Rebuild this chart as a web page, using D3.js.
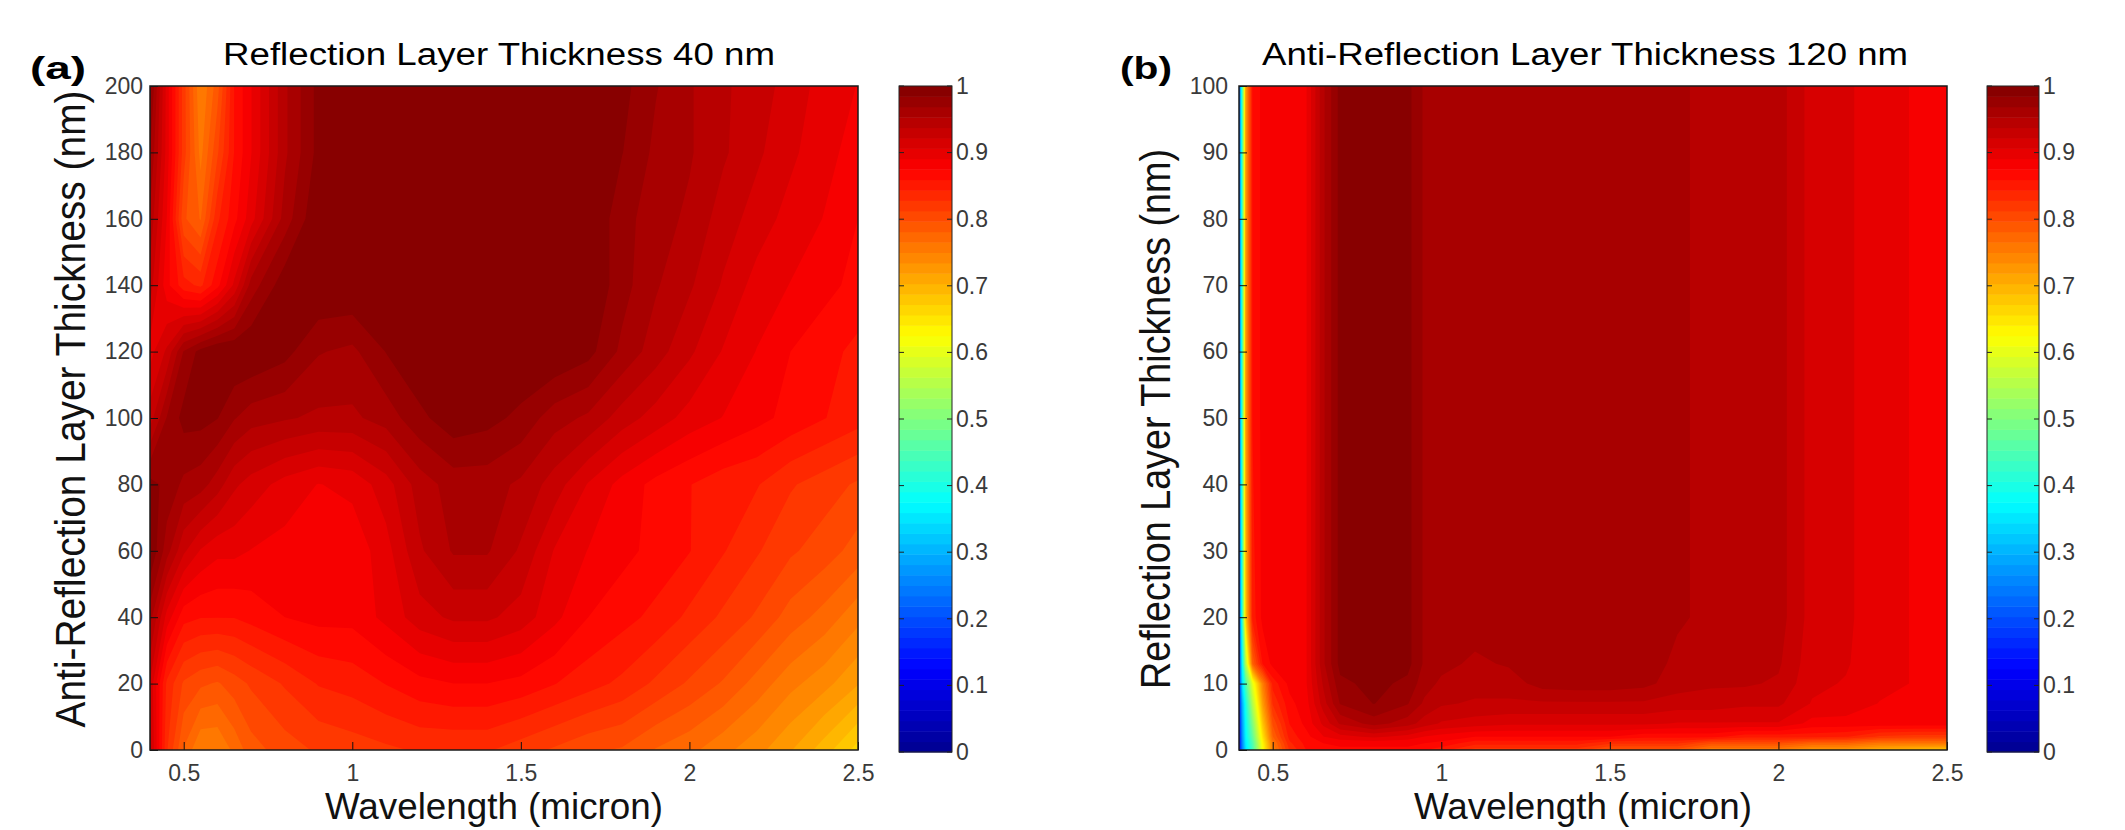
<!DOCTYPE html>
<html>
<head>
<meta charset="utf-8">
<script src="https://cdn.jsdelivr.net/npm/d3@7"></script>
<style>
  body { margin: 0; background: #fff; }
  text { font-family: "Liberation Sans", Arial, sans-serif; }
</style>
</head>
<body>
<div id="chart"></div>
<script>
// ---- data ----
var xTicks = [0.5, 1, 1.5, 2, 2.5];
var yTicksA = [0, 20, 40, 60, 80, 100, 120, 140, 160, 180, 200];
var yTicksB = [0, 10, 20, 30, 40, 50, 60, 70, 80, 90, 100];
var cbTicks = [0, 0.1, 0.2, 0.3, 0.4, 0.5, 0.6, 0.7, 0.8, 0.9, 1];

// panel (a): wavelength (micron) x anti-reflection thickness (nm)
var wavelengthA = [0.4, 0.45, 0.5, 0.55, 0.6, 0.65, 0.7, 0.8, 0.9, 1.0, 1.1, 1.2, 1.3, 1.4, 1.5, 1.6, 1.7, 1.8, 1.9, 2.0, 2.1, 2.2, 2.3, 2.4, 2.5];
var thicknessA = [0, 20, 40, 60, 80, 100, 120, 140, 160, 180, 200];
var reflectA = [
  [0.93,0.83,0.78,0.75,0.75,0.77,0.79,0.805,0.815,0.82, 0.825,0.83,0.83,0.83,0.82,0.81,0.80,0.795,0.78,0.77, 0.755,0.74,0.72,0.695,0.665],
  [0.92,0.84,0.81,0.80,0.795,0.805,0.815,0.83,0.845,0.85, 0.86,0.87,0.875,0.875,0.87,0.86,0.85,0.84,0.825,0.81, 0.795,0.775,0.755,0.74,0.72],
  [0.96,0.90,0.865,0.86,0.86,0.86,0.865,0.875,0.88,0.88, 0.895,0.915,0.925,0.925,0.915,0.895,0.875,0.865,0.855,0.84, 0.825,0.81,0.79,0.775,0.755],
  [1.00,0.96,0.925,0.905,0.895,0.895,0.89,0.885,0.88,0.88, 0.90,0.935,0.955,0.955,0.935,0.905,0.89,0.88,0.87,0.86, 0.845,0.83,0.815,0.805,0.79],
  [0.99,0.98,0.965,0.96,0.945,0.925,0.915,0.90,0.89,0.895, 0.915,0.945,0.96,0.96,0.95,0.93,0.905,0.885,0.87,0.86, 0.85,0.845,0.83,0.82,0.81],
  [0.93,0.97,0.99,0.99,0.985,0.97,0.96,0.955,0.95,0.95, 0.96,0.98,0.995,0.99,0.98,0.96,0.95,0.93,0.915,0.90, 0.89,0.88,0.87,0.86,0.85],
  [0.90,0.925,0.97,0.99,1.0,1.0,1.0,0.99,0.97,0.965, 0.985,1.0,1.0,1.0,1.0,1.0,0.99,0.965,0.945,0.925, 0.905,0.89,0.875,0.865,0.855],
  [0.93,0.88,0.85,0.84,0.87,0.91,0.96,0.995,1.0,1.0, 1.0,1.0,1.0,1.0,1.0,1.0,1.0,0.975,0.955,0.94, 0.92,0.90,0.89,0.88,0.87],
  [0.95,0.89,0.80,0.78,0.84,0.87,0.90,0.96,1.0,1.0, 1.0,1.0,1.0,1.0,1.0,1.0,1.0,0.975,0.96,0.95, 0.93,0.915,0.90,0.89,0.875],
  [0.97,0.90,0.82,0.76,0.81,0.86,0.89,0.95,0.99,1.0, 1.0,1.0,1.0,1.0,1.0,1.0,1.0,0.985,0.965,0.955, 0.94,0.925,0.91,0.895,0.885],
  [0.99,0.90,0.82,0.75,0.79,0.86,0.89,0.95,0.99,1.0, 1.0,1.0,1.0,1.0,1.0,1.0,1.0,0.99,0.97,0.955, 0.94,0.93,0.915,0.90,0.89]
];

// panel (b): wavelength (micron) x reflection thickness (nm)
var wavelengthB = [0.4, 0.41, 0.42, 0.44, 0.47, 0.5, 0.55, 0.6, 0.65, 0.7, 0.8, 0.9, 0.95, 1.0, 1.1, 1.2, 1.3, 1.4, 1.5, 1.6, 1.7, 1.8, 1.9, 2.0, 2.1, 2.2, 2.3, 2.4, 2.5];
var thicknessB = [0, 1, 2, 4, 7, 10, 13, 20, 50, 100];
var reflectB = [
  [0.12,0.25,0.35,0.44,0.62,0.75,0.83,0.86,0.865,0.87, 0.87,0.87,0.86,0.85,0.82,0.82,0.82,0.82,0.79,0.79, 0.79,0.75,0.75,0.75,0.72,0.72,0.70,0.69,0.68],
  [0.12,0.26,0.36,0.45,0.63,0.76,0.84,0.865,0.875,0.88, 0.88,0.88,0.875,0.87,0.85,0.85,0.85,0.85,0.83,0.83, 0.83,0.80,0.80,0.80,0.78,0.78,0.76,0.76,0.76],
  [0.12,0.27,0.37,0.47,0.65,0.78,0.85,0.87,0.89,0.90, 0.91,0.90,0.89,0.885,0.875,0.875,0.875,0.875,0.875,0.865, 0.865,0.865,0.85,0.85,0.85,0.845,0.825,0.82,0.82],
  [0.13,0.28,0.38,0.50,0.68,0.80,0.86,0.88,0.91,0.94, 0.96,0.945,0.93,0.92,0.915,0.91,0.91,0.91,0.91,0.91, 0.905,0.905,0.905,0.905,0.885,0.885,0.885,0.885,0.885],
  [0.14,0.30,0.40,0.55,0.72,0.83,0.87,0.885,0.93,0.97, 0.985,0.97,0.95,0.94,0.935,0.935,0.935,0.935,0.935,0.935, 0.93,0.93,0.925,0.925,0.905,0.90,0.89,0.89,0.89],
  [0.15,0.35,0.45,0.60,0.75,0.85,0.88,0.89,0.94,0.98, 0.99,0.98,0.96,0.95,0.945,0.945,0.96,0.962,0.962,0.958, 0.945,0.94,0.94,0.935,0.91,0.905,0.895,0.89,0.89],
  [0.16,0.38,0.55,0.78,0.86,0.88,0.885,0.89,0.95,0.99, 1.0,0.99,0.966,0.958,0.95,0.955,0.963,0.965,0.965,0.96, 0.95,0.945,0.945,0.94,0.912,0.908,0.895,0.89,0.89],
  [0.17,0.43,0.68,0.85,0.88,0.885,0.885,0.89,0.95,0.99, 1.0,0.99,0.966,0.963,0.962,0.963,0.965,0.965,0.965,0.962, 0.955,0.95,0.95,0.945,0.915,0.91,0.895,0.89,0.89],
  [0.18,0.45,0.72,0.86,0.88,0.885,0.885,0.89,0.95,0.99, 1.0,0.99,0.966,0.965,0.965,0.965,0.965,0.965,0.965,0.962, 0.955,0.95,0.95,0.945,0.915,0.91,0.895,0.89,0.89],
  [0.18,0.45,0.72,0.86,0.88,0.885,0.885,0.89,0.95,0.99, 1.0,0.99,0.966,0.965,0.965,0.965,0.965,0.965,0.965,0.962, 0.955,0.95,0.95,0.945,0.915,0.91,0.895,0.89,0.89]
];

// ---- drawing ----
var svg = d3.select('#chart').append('svg')
    .attr('width', 2125)
    .attr('height', 830);

// matlab "jet" colour map
var jet = d3.scaleLinear()
    .domain([0, 0.125, 0.375, 0.625, 0.875, 1])
    .range(['#00008f', '#0000ff', '#00ffff', '#ffff00', '#ff0000', '#800000'])
    .clamp(true);

var levels = d3.range(64).map(function(i) { return i / 64; });

function drawPanel(p) {
    var x = d3.scaleLinear().domain([0.4, 2.5]).range([p.left, p.right]);
    var y = d3.scaleLinear().domain(p.yDomain).range([p.bottom, p.top]);

    // contour grid coords -> data coords (values sit at cell centres)
    var gx = d3.scaleLinear().domain(p.xs.map(function(d, i) { return i + 0.5; })).range(p.xs);
    var gy = d3.scaleLinear().domain(p.ys.map(function(d, i) { return i + 0.5; })).range(p.ys);

    var flat = [];
    p.values.forEach(function(row) { flat = flat.concat(row); });

    var bands = d3.contours()
        .size([p.xs.length, p.ys.length])
        .thresholds(levels)(flat);

    var proj = d3.geoTransform({
        point: function(px, py) { this.stream.point(x(gx(px)), y(gy(py))); }
    });
    var path = d3.geoPath(proj);

    svg.append('clipPath').attr('id', 'clip-' + p.id)
        .append('rect')
        .attr('x', p.left).attr('y', p.top)
        .attr('width', p.right - p.left).attr('height', p.bottom - p.top);

    svg.append('g')
        .attr('clip-path', 'url(#clip-' + p.id + ')')
        .selectAll('path')
        .data(bands)
        .enter().append('path')
        .attr('d', path)
        .attr('fill', function(d) { return jet(d.value + 0.5 / 64); });

    // axes, ticks pointing inward
    var ax = svg.append('g')
        .attr('transform', 'translate(0,' + p.bottom + ')')
        .call(d3.axisBottom(x).tickValues(xTicks).tickSize(-8).tickPadding(15)
            .tickFormat(d3.format('~g')));
    var ay = svg.append('g')
        .attr('transform', 'translate(' + p.left + ',0)')
        .call(d3.axisLeft(y).tickValues(p.yTicks).tickSize(-8).tickPadding(p.yPad));
    [ax, ay].forEach(function(a) {
        a.select('.domain').remove();
        a.selectAll('line').attr('stroke', '#111');
        a.selectAll('text').style('font-size', '23px').attr('fill', '#3a3a3a')
            .style('font-family', '"Liberation Sans", Arial, sans-serif');
    });

    svg.append('rect')
        .attr('x', p.left).attr('y', p.top)
        .attr('width', p.right - p.left).attr('height', p.bottom - p.top)
        .attr('fill', 'none').attr('stroke', '#1a1a1a').attr('stroke-width', 1.5);

    // colour bar
    var cb = d3.scaleLinear().domain([0, 1]).range([p.cbBottom, p.top]);
    svg.append('g').selectAll('rect')
        .data(levels)
        .enter().append('rect')
        .attr('x', p.cbLeft)
        .attr('width', p.cbRight - p.cbLeft)
        .attr('y', function(d) { return cb(d + 1 / 64); })
        .attr('height', function(d) { return cb(d) - cb(d + 1 / 64) + 0.5; })
        .attr('fill', function(d) { return jet(d + 0.5 / 64); });

    var cbt = svg.append('g').selectAll('g').data(cbTicks).enter().append('g');
    cbt.append('line')
        .attr('x1', p.cbLeft).attr('x2', p.cbLeft + 5)
        .attr('y1', function(d) { return cb(d); }).attr('y2', function(d) { return cb(d); })
        .attr('stroke', '#222');
    cbt.append('line')
        .attr('x1', p.cbRight - 5).attr('x2', p.cbRight)
        .attr('y1', function(d) { return cb(d); }).attr('y2', function(d) { return cb(d); })
        .attr('stroke', '#222');

    var ac = svg.append('g')
        .attr('transform', 'translate(' + p.cbRight + ',0)')
        .call(d3.axisRight(cb).tickValues(cbTicks).tickSize(0).tickPadding(4)
            .tickFormat(d3.format('~g')));
    ac.select('.domain').remove();
    ac.selectAll('text').style('font-size', '23px').attr('fill', '#3a3a3a')
        .style('font-family', '"Liberation Sans", Arial, sans-serif');

    svg.append('rect')
        .attr('x', p.cbLeft).attr('y', p.top)
        .attr('width', p.cbRight - p.cbLeft).attr('height', p.cbBottom - p.top)
        .attr('fill', 'none').attr('stroke', '#222').attr('stroke-width', 1);

    // texts
    svg.append('text')
        .attr('x', p.titleX).attr('y', 65)
        .attr('text-anchor', 'middle')
        .attr('textLength', p.titleLen).attr('lengthAdjust', 'spacingAndGlyphs')
        .style('font-size', '31px').attr('fill', '#000')
        .text(p.title);

    svg.append('text')
        .attr('x', p.tagX).attr('y', 79)
        .attr('textLength', p.tagLen).attr('lengthAdjust', 'spacingAndGlyphs')
        .style('font-size', '32px').style('font-weight', 'bold').attr('fill', '#000')
        .text(p.tag);

    svg.append('text')
        .attr('x', p.xLabelX).attr('y', 819)
        .attr('text-anchor', 'middle')
        .attr('textLength', 338).attr('lengthAdjust', 'spacingAndGlyphs')
        .style('font-size', '37px').attr('fill', '#111')
        .text('Wavelength (micron)');

    svg.append('text')
        .attr('transform', 'translate(' + p.yLabelX + ',' + p.yLabelY + ') rotate(-90)')
        .attr('text-anchor', 'middle')
        .attr('textLength', p.yLabelLen).attr('lengthAdjust', 'spacingAndGlyphs')
        .style('font-size', '42px').attr('fill', '#111')
        .text(p.yLabel);
}

drawPanel({
    id: 'a', left: 150, right: 858, top: 86, bottom: 750,
    xs: wavelengthA, ys: thicknessA, values: reflectA,
    yDomain: [0, 200], yTicks: yTicksA, yPad: 7,
    cbLeft: 899, cbRight: 952, cbBottom: 752,
    title: 'Reflection Layer Thickness 40 nm', titleX: 499, titleLen: 552,
    tag: '(a)', tagX: 30, tagLen: 56,
    xLabelX: 494,
    yLabel: 'Anti-Reflection Layer Thickness (nm)', yLabelX: 85, yLabelY: 409, yLabelLen: 637
});

drawPanel({
    id: 'b', left: 1239, right: 1947, top: 86, bottom: 750,
    xs: wavelengthB, ys: thicknessB, values: reflectB,
    yDomain: [0, 100], yTicks: yTicksB, yPad: 11,
    cbLeft: 1987, cbRight: 2039, cbBottom: 752,
    title: 'Anti-Reflection Layer Thickness 120 nm', titleX: 1585, titleLen: 646,
    tag: '(b)', tagX: 1120, tagLen: 52,
    xLabelX: 1583,
    yLabel: 'Reflection Layer Thickness (nm)', yLabelX: 1170, yLabelY: 419, yLabelLen: 540
});
</script>
</body>
</html>
